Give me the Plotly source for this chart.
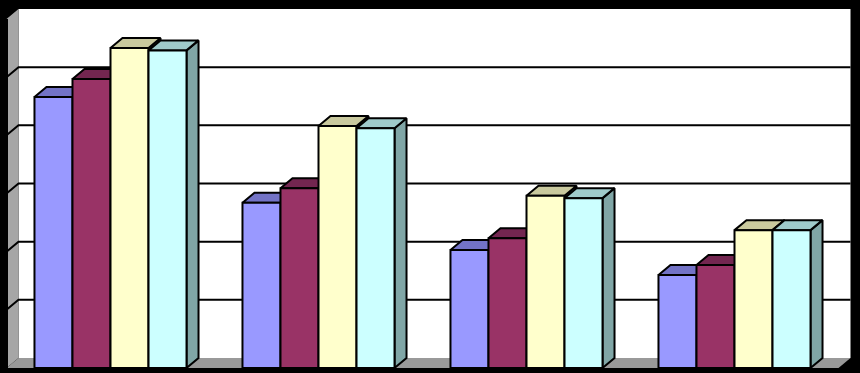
import plotly.graph_objects as go

# ---- data ----
categories = ["1", "2", "3", "4"]
series_names = ["Serie 1", "Serie 2", "Serie 3", "Serie 4"]
s1 = [4.66, 2.84, 2.03, 1.60]
s2 = [4.97, 3.09, 2.23, 1.77]
s3 = [5.50, 4.16, 2.96, 2.37]
s4 = [5.46, 4.12, 2.92, 2.37]
series_values = [s1, s2, s3, s4]
y_max = 6
y_ticks = [0, 1, 2, 3, 4, 5, 6]

# ---- style ----
front_cols = ["#9999FF", "#993366", "#FFFFCC", "#CCFFFF"]
top_cols = ["#7373C6", "#732650", "#C9C99E", "#9FCACA"]
side_cols = ["#5C5C99", "#5C1F3D", "#99997A", "#80A6A6"]
group_width = 0.731
dx = 12 / 208.0          # depth offset in x (data units)
dy = 10 / 58.17          # depth offset in y (data units)
x0f, x1f = -0.5, len(categories) - 0.5
LW = 2

fig = go.Figure()


def poly(xs, ys, fill, lw=LW):
    fig.add_trace(go.Scatter(
        x=xs + [xs[0]], y=ys + [ys[0]], mode="lines", fill="toself",
        fillcolor=fill, line=dict(color="black", width=lw),
        hoverinfo="skip", showlegend=False))


# walls & floor
poly([x0f + dx, x1f + dx, x1f + dx, x0f + dx], [dy, dy, y_max + dy, y_max + dy], "#FFFFFF", 0)
poly([x0f, x0f, x0f + dx, x0f + dx], [0, y_max, y_max + dy, dy], "#A6A6A6", 0)
poly([x0f, x1f, x1f + dx, x0f + dx], [0, 0, dy, dy], "#999999", 0)
# left wall front edge
fig.add_trace(go.Scatter(x=[x0f, x0f], y=[0, y_max], mode="lines",
                         line=dict(color="black", width=3), hoverinfo="skip", showlegend=False))
# gridlines (back wall + left wall)
for t in y_ticks[1:-1]:
    fig.add_trace(go.Scatter(
        x=[x0f, x0f + dx, x1f + dx], y=[t, t + dy, t + dy], mode="lines",
        line=dict(color="black", width=LW), hoverinfo="skip", showlegend=False))

# bars, drawn left to right for correct occlusion
n = len(series_values)
bw = group_width / n
for gi in range(len(categories)):
    for si in range(n):
        v = series_values[si][gi]
        xl = gi - group_width / 2 + si * bw
        xr = xl + bw
        # side
        poly([xr, xr, xr + dx, xr + dx], [0, v, v + dy, dy], side_cols[si])
        # top
        poly([xl, xl + dx, xr + dx, xr], [v, v + dy, v + dy, v], top_cols[si])
        # front
        poly([xl, xr, xr, xl], [0, 0, v, v], front_cols[si])

px_per_x = 208.0
px_per_y = 58.17
fig.update_layout(
    width=860, height=373,
    margin=dict(l=0, r=0, t=0, b=0),
    paper_bgcolor="black", plot_bgcolor="black",
    showlegend=False,
    xaxis=dict(range=[-0.5 - 6.5 / px_per_x, -0.5 + (860 - 6.5) / px_per_x],
               showgrid=False, zeroline=False, showticklabels=False, fixedrange=True),
    yaxis=dict(range=[-5 / px_per_y, 368 / px_per_y],
               showgrid=False, zeroline=False, showticklabels=False, fixedrange=True),
)

fig.write_html("out.html")
